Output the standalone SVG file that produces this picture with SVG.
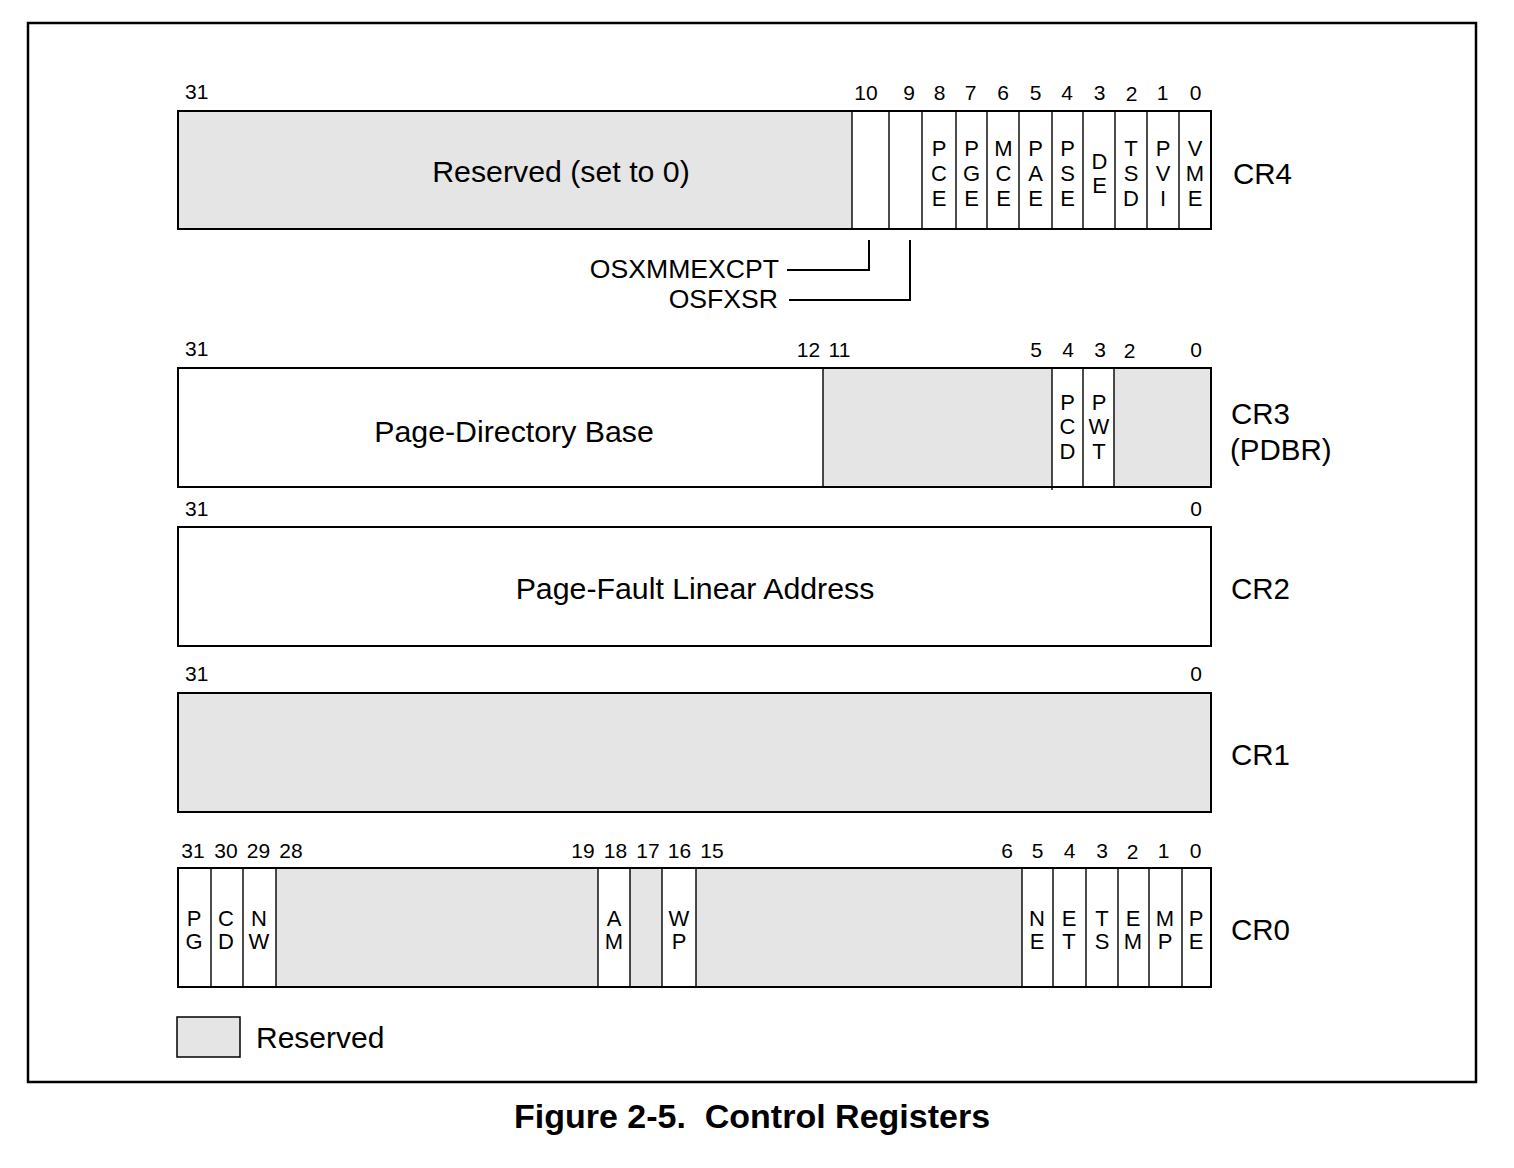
<svg xmlns="http://www.w3.org/2000/svg" width="1514" height="1168" viewBox="0 0 1514 1168">
  <style>
    text { font-family: "Liberation Sans", Arial, sans-serif; fill: #000; }
    .box { fill: #fff; stroke: #000; stroke-width: 2; }
    .res { fill: #e5e5e5; stroke: none; }
    .frame { fill: none; stroke: #000; stroke-width: 2; }
    .div { stroke: #000; stroke-width: 1.4; fill: none; }
    .num { font-size: 21px; text-anchor: middle; }
    .num31 { font-size: 21px; }
    .bit { font-size: 22px; text-anchor: middle; }
    .lbl { font-size: 30.3px; text-anchor: middle; }
    .reg { font-size: 29.5px; }
    .lead { stroke: #000; stroke-width: 2; fill: none; }
    .title { font-size: 34px; font-weight: bold; text-anchor: middle; }
  </style>

  <!-- outer frame -->
  <rect x="28" y="23" width="1448" height="1059" fill="#fff" stroke="#000" stroke-width="2.5"/>

  <!-- CR4 -->
  <g id="cr4">
    <rect class="box" x="178" y="111" width="1033" height="118"/>
    <rect class="res" x="179" y="112" width="673" height="116"/>
    <path class="div" d="M852,111V229M889,111V229M922,111V229M956,111V229M987,111V229M1019,111V229M1052,111V229M1083,111V229M1115,111V229M1147,111V229M1179,111V229"/>
    <rect class="frame" x="178" y="111" width="1033" height="118"/>
    <text class="num31" x="185" y="99">31</text>
    <g class="num">
      <text x="866" y="100">10</text><text x="909" y="100">9</text><text x="939.5" y="100">8</text>
      <text x="970.5" y="100">7</text><text x="1003" y="100">6</text><text x="1035.5" y="100">5</text>
      <text x="1067" y="100">4</text><text x="1099.5" y="100">3</text><text x="1131.5" y="101">2</text>
      <text x="1162.5" y="100">1</text><text x="1195.5" y="100">0</text>
    </g>
    <g class="bit">
      <text x="939" y="156">P</text><text x="939" y="181">C</text><text x="939" y="206">E</text>
      <text x="971.5" y="156">P</text><text x="971.5" y="181">G</text><text x="971.5" y="206">E</text>
      <text x="1003.5" y="156">M</text><text x="1003.5" y="181">C</text><text x="1003.5" y="206">E</text>
      <text x="1035.5" y="156">P</text><text x="1035.5" y="181">A</text><text x="1035.5" y="206">E</text>
      <text x="1067.5" y="156">P</text><text x="1067.5" y="181">S</text><text x="1067.5" y="206">E</text>
      <text x="1099.5" y="169">D</text><text x="1099.5" y="193">E</text>
      <text x="1131" y="156">T</text><text x="1131" y="181">S</text><text x="1131" y="206">D</text>
      <text x="1163" y="156">P</text><text x="1163" y="181">V</text><text x="1163" y="206">I</text>
      <text x="1195" y="156">V</text><text x="1195" y="181">M</text><text x="1195" y="206">E</text>
    </g>
    <text class="lbl" x="561" y="182">Reserved (set to 0)</text>
    <text class="reg" x="1233" y="184">CR4</text>
  </g>

  <!-- leader lines from bits 10 and 9 -->
  <g id="connectors">
    <path class="lead" d="M787,270H869V240"/>
    <path class="lead" d="M789,300H910V240"/>
  </g>
  <g id="osxmmexcpt"><text x="779" y="278" font-size="26.6" text-anchor="end">OSXMMEXCPT</text></g>
  <g id="osfxsr"><text x="778" y="308" font-size="26.6" text-anchor="end">OSFXSR</text></g>

  <!-- CR3 -->
  <g id="cr3">
    <rect class="box" x="178" y="368" width="1033" height="119"/>
    <rect class="res" x="823" y="369" width="229" height="117"/>
    <rect class="res" x="1114" y="369" width="96" height="117"/>
    <path class="div" d="M823,368V487M1052,368V490M1083,368V487M1114,368V487"/>
    <rect class="frame" x="178" y="368" width="1033" height="119"/>
    <text class="num31" x="185" y="356">31</text>
    <g class="num">
      <text x="808.5" y="357">12</text><text x="839.5" y="357">11</text><text x="1036" y="357">5</text>
      <text x="1068" y="357">4</text><text x="1100" y="357">3</text><text x="1129.5" y="358">2</text>
      <text x="1196" y="357">0</text>
    </g>
    <g class="bit">
      <text x="1067.5" y="410">P</text><text x="1067.5" y="434">C</text><text x="1067.5" y="459">D</text>
      <text x="1099" y="410">P</text><text x="1099" y="434">W</text><text x="1099" y="459">T</text>
    </g>
    <text class="lbl" x="514" y="442">Page-Directory Base</text>
    <text class="reg" x="1231" y="424">CR3</text>
    <text class="reg" x="1230" y="460">(PDBR)</text>
  </g>

  <!-- CR2 -->
  <g id="cr2">
    <rect class="box" x="178" y="527" width="1033" height="119"/>
    <text class="num31" x="185" y="516">31</text>
    <text class="num" x="1196" y="516">0</text>
    <text class="lbl" x="695" y="599">Page-Fault Linear Address</text>
    <text class="reg" x="1231" y="599">CR2</text>
  </g>

  <!-- CR1 (fully reserved) -->
  <g id="cr1">
    <rect class="res" x="178" y="693" width="1033" height="119"/>
    <rect class="frame" x="178" y="693" width="1033" height="119"/>
    <text class="num31" x="185" y="681">31</text>
    <text class="num" x="1196" y="681">0</text>
    <text class="reg" x="1231" y="765">CR1</text>
  </g>

  <!-- CR0 -->
  <g id="cr0">
    <rect class="box" x="178" y="868" width="1033" height="119"/>
    <rect class="res" x="276" y="869" width="322" height="117"/>
    <rect class="res" x="630" y="869" width="32" height="117"/>
    <rect class="res" x="696" y="869" width="326" height="117"/>
    <path class="div" d="M211,868V987M243,868V987M276,868V987M598,868V987M630,868V987M662,868V987M696,868V987M1022,868V987M1053,868V987M1086,868V987M1118,868V987M1149,868V987M1182,868V987"/>
    <rect class="frame" x="178" y="868" width="1033" height="119"/>
    <g class="num">
      <text x="193" y="858">31</text><text x="226" y="858">30</text><text x="258.5" y="858">29</text>
      <text x="291" y="858">28</text><text x="583" y="858">19</text><text x="615.5" y="858">18</text>
      <text x="648" y="858">17</text><text x="679.5" y="858">16</text><text x="712" y="858">15</text>
      <text x="1007" y="858">6</text><text x="1037.5" y="858">5</text><text x="1069.5" y="858">4</text>
      <text x="1102" y="858">3</text><text x="1132.5" y="859">2</text><text x="1163.5" y="858">1</text>
      <text x="1195.5" y="858">0</text>
    </g>
    <g class="bit">
      <text x="194" y="926">P</text><text x="194" y="949">G</text>
      <text x="226" y="926">C</text><text x="226" y="949">D</text>
      <text x="259" y="926">N</text><text x="259" y="949">W</text>
      <text x="614" y="926">A</text><text x="614" y="949">M</text>
      <text x="679" y="926">W</text><text x="679" y="949">P</text>
      <text x="1037" y="926">N</text><text x="1037" y="949">E</text>
      <text x="1069" y="926">E</text><text x="1069" y="949">T</text>
      <text x="1102" y="926">T</text><text x="1102" y="949">S</text>
      <text x="1133" y="926">E</text><text x="1133" y="949">M</text>
      <text x="1165" y="926">M</text><text x="1165" y="949">P</text>
      <text x="1196" y="926">P</text><text x="1196" y="949">E</text>
    </g>
    <text class="reg" x="1231" y="940">CR0</text>
  </g>

  <!-- legend -->
  <g id="legend">
    <rect x="177" y="1017" width="63" height="40" fill="#e5e5e5" stroke="#000" stroke-width="1.5"/>
    <text x="256" y="1048" font-size="30">Reserved</text>
  </g>

  <text class="title" x="752" y="1128" xml:space="preserve">Figure 2-5.  Control Registers</text>
</svg>
